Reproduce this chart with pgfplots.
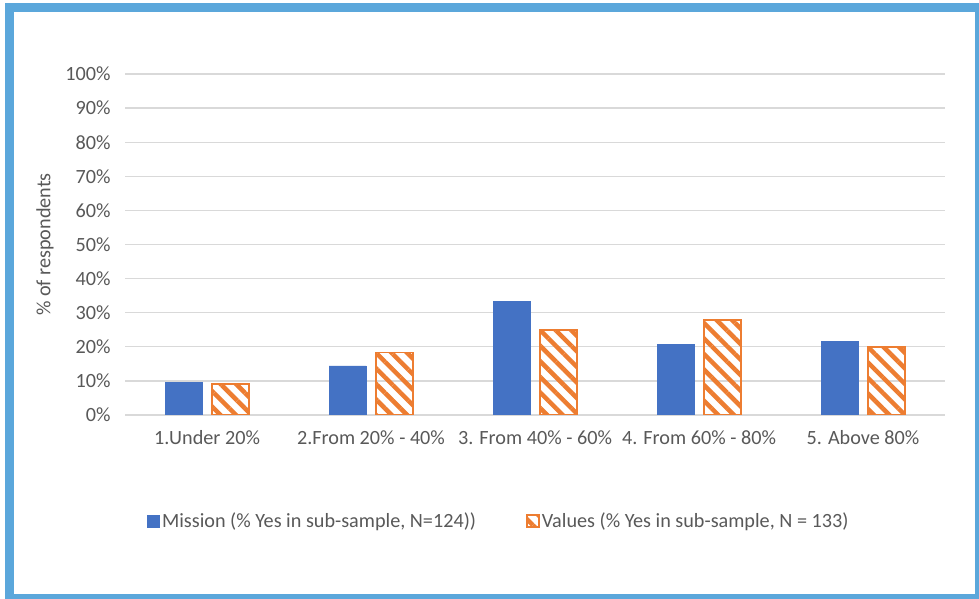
\documentclass[border=0pt]{standalone}
\usepackage{fontspec}
\setmainfont{Carlito}
\usepackage{pgfplots}
\pgfplotsset{compat=1.18}
\usetikzlibrary{patterns.meta}

\definecolor{missionblue}{HTML}{4472C4}
\definecolor{valuesorange}{HTML}{ED7D31}
\definecolor{gridgray}{HTML}{D9D9D9}
\definecolor{textgray}{HTML}{595959}
\definecolor{framecol}{HTML}{5BA7DB}

\pgfplotstableread{
x mission values
0 9.6  9.0
1 14.4 18.3
2 33.4 24.9
3 20.7 27.9
4 21.5 20.0
}\surveydata

\begin{document}
\begin{tikzpicture}[x=1pt,y=1pt]
\useasboundingbox (0,0) rectangle (979,599);
% outer frame
\fill[framecol] (5,0) rectangle (979,596);
\fill[white] (14,5) rectangle (975,587);

\begin{axis}[
  at={(125pt,184pt)}, anchor=south west,
  scale only axis,
  width=820pt, height=341pt,
  font=\fontsize{20.2pt}{24pt}\selectfont,
  ybar=10pt, bar width=37pt,
  xmin=-0.5, xmax=4.5,
  ymin=0, ymax=100,
  xtick={0,1,2,3,4},
  xticklabels={1.Under 20\%, 2.From 20\% - 40\%, 3. From 40\% - 60\%, 4. From 60\% - 80\%, 5. Above 80\%},
  ytick={0,10,...,100},
  yticklabels={0\%,10\%,20\%,30\%,40\%,50\%,60\%,70\%,80\%,90\%,100\%},
  major tick length=0pt,
  axis line style={draw=none},
  ymajorgrids,
  grid style={gridgray, line width=1.3pt},
  tick label style={textgray},
  yticklabel style={xshift=-11pt},
  xticklabel style={yshift=-12pt},
  ylabel={\% of respondents},
  ylabel style={textgray, at={(axis description cs:-0.0976,0.5)}, anchor=center},
  legend columns=2,
  legend style={
    at={(rel axis cs:0.0235,-0.311)}, anchor=west,
    draw=none, fill=none, text=textgray,
    nodes={inner xsep=2pt},
    /tikz/every even column/.append style={column sep=48pt},
  },
  legend image code/.code={\draw[#1] (0pt,-6pt) rectangle (12pt,6pt);},
]
\addplot[fill=missionblue, draw=missionblue, line width=0.6pt]
  table[x=x, y=mission] {\surveydata};
\addlegendentry{Mission (\% Yes in sub-sample, N=124))}
\addplot[draw=valuesorange, line width=1.8pt,
  pattern={Lines[angle=-45, distance=11pt, line width=4.5pt]},
  pattern color=valuesorange]
  table[x=x, y=values] {\surveydata};
\addlegendentry{Values (\% Yes in sub-sample, N = 133)}
\end{axis}
\end{tikzpicture}
\end{document}
